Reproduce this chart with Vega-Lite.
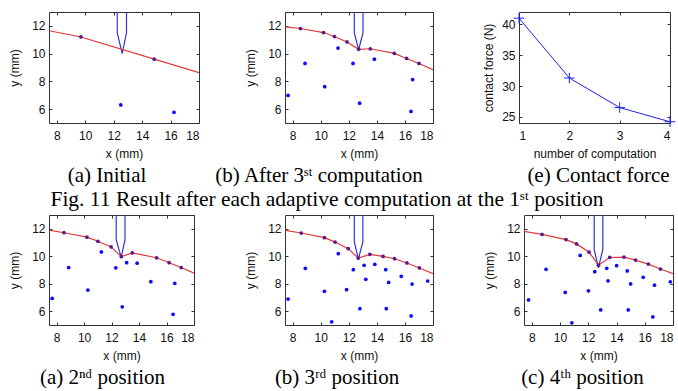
{
  "$schema": "https://vega.github.io/schema/vega-lite/v6.json",
  "background": "white",
  "padding": {"left": 8, "top": 10, "right": 0, "bottom": 0},
  "bounds": "full",
  "spacing": 4,
  "config": {
    "view": {"stroke": "#333333", "strokeWidth": 1},
    "axis": {
      "grid": false, "domain": false, "tickSize": -3, "tickColor": "#333333", "tickWidth": 1,
      "labelFont": "Liberation Sans", "labelFontSize": 12, "labelColor": "#111111", "labelPadding": 7,
      "titleFont": "Liberation Sans", "titleFontSize": 12, "titleFontWeight": "normal", "titleColor": "#111111"
    },
    "axisX": {"titlePadding": 7, "labelPadding": 10},
    "axisY": {"titlePadding": 10},
    "title": {"font": "Liberation Serif", "fontSize": 21, "fontWeight": "normal", "color": "#000000"}
  },
  "datasets": {
    "pts": [
      {"p": "a", "t": "e", "x": 7.45, "y": 11.65},
      {"p": "a", "t": "s", "x": 9.7, "y": 11.2},
      {"p": "a", "t": "s", "x": 14.85, "y": 9.6},
      {"p": "a", "t": "e", "x": 18, "y": 8.63},
      {"p": "a", "t": "i", "x": 12.5, "y": 6.3},
      {"p": "a", "t": "i", "x": 16.24, "y": 5.77},

      {"p": "b", "t": "e", "x": 7.45, "y": 11.93},
      {"p": "b", "t": "s", "x": 8.55, "y": 11.81},
      {"p": "b", "t": "s", "x": 10.19, "y": 11.52},
      {"p": "b", "t": "s", "x": 10.97, "y": 11.23},
      {"p": "b", "t": "s", "x": 11.87, "y": 10.84},
      {"p": "b", "t": "s", "x": 12.7, "y": 10.31},
      {"p": "b", "t": "s", "x": 13.53, "y": 10.35},
      {"p": "b", "t": "s", "x": 15.24, "y": 10.02},
      {"p": "b", "t": "s", "x": 16.12, "y": 9.65},
      {"p": "b", "t": "s", "x": 17.0, "y": 9.29},
      {"p": "b", "t": "e", "x": 18, "y": 8.85},
      {"p": "b", "t": "i", "x": 7.67, "y": 6.99},
      {"p": "b", "t": "i", "x": 8.88, "y": 9.29},
      {"p": "b", "t": "i", "x": 10.28, "y": 7.62},
      {"p": "b", "t": "i", "x": 11.23, "y": 10.4},
      {"p": "b", "t": "i", "x": 12.3, "y": 9.29},
      {"p": "b", "t": "i", "x": 13.82, "y": 9.6},
      {"p": "b", "t": "i", "x": 12.77, "y": 6.43},
      {"p": "b", "t": "i", "x": 16.55, "y": 8.13},
      {"p": "b", "t": "i", "x": 16.43, "y": 5.83},

      {"p": "a2", "t": "e", "x": 7.45, "y": 11.9},
      {"p": "a2", "t": "s", "x": 8.54, "y": 11.71},
      {"p": "a2", "t": "s", "x": 10.21, "y": 11.39},
      {"p": "a2", "t": "s", "x": 11.01, "y": 11.09},
      {"p": "a2", "t": "s", "x": 11.97, "y": 10.68},
      {"p": "a2", "t": "s", "x": 12.71, "y": 9.97},
      {"p": "a2", "t": "s", "x": 13.51, "y": 10.24},
      {"p": "a2", "t": "s", "x": 15.28, "y": 9.89},
      {"p": "a2", "t": "s", "x": 16.19, "y": 9.53},
      {"p": "a2", "t": "s", "x": 17.07, "y": 9.18},
      {"p": "a2", "t": "e", "x": 18, "y": 8.77},
      {"p": "a2", "t": "i", "x": 7.68, "y": 6.93},
      {"p": "a2", "t": "i", "x": 8.88, "y": 9.18},
      {"p": "a2", "t": "i", "x": 10.28, "y": 7.54},
      {"p": "a2", "t": "i", "x": 11.26, "y": 10.31},
      {"p": "a2", "t": "i", "x": 12.31, "y": 9.16},
      {"p": "a2", "t": "i", "x": 13.1, "y": 9.53},
      {"p": "a2", "t": "i", "x": 13.86, "y": 9.5},
      {"p": "a2", "t": "i", "x": 12.78, "y": 6.32},
      {"p": "a2", "t": "i", "x": 14.86, "y": 8.15},
      {"p": "a2", "t": "i", "x": 16.6, "y": 8.03},
      {"p": "a2", "t": "i", "x": 16.48, "y": 5.78},

      {"p": "b2", "t": "e", "x": 7.45, "y": 11.88},
      {"p": "b2", "t": "s", "x": 8.61, "y": 11.69},
      {"p": "b2", "t": "s", "x": 10.26, "y": 11.35},
      {"p": "b2", "t": "s", "x": 11.02, "y": 11.03},
      {"p": "b2", "t": "s", "x": 11.96, "y": 10.55},
      {"p": "b2", "t": "s", "x": 12.67, "y": 9.87},
      {"p": "b2", "t": "s", "x": 13.5, "y": 10.14},
      {"p": "b2", "t": "s", "x": 14.44, "y": 9.99},
      {"p": "b2", "t": "s", "x": 15.26, "y": 9.82},
      {"p": "b2", "t": "s", "x": 16.14, "y": 9.51},
      {"p": "b2", "t": "s", "x": 17.03, "y": 9.15},
      {"p": "b2", "t": "e", "x": 18, "y": 8.73},
      {"p": "b2", "t": "i", "x": 7.67, "y": 6.89},
      {"p": "b2", "t": "i", "x": 8.9, "y": 9.12},
      {"p": "b2", "t": "i", "x": 10.26, "y": 7.45},
      {"p": "b2", "t": "i", "x": 10.78, "y": 5.23},
      {"p": "b2", "t": "i", "x": 11.25, "y": 10.19},
      {"p": "b2", "t": "i", "x": 11.84, "y": 7.57},
      {"p": "b2", "t": "i", "x": 12.32, "y": 9.02},
      {"p": "b2", "t": "i", "x": 12.79, "y": 6.19},
      {"p": "b2", "t": "i", "x": 13.09, "y": 9.34},
      {"p": "b2", "t": "i", "x": 13.21, "y": 8.32},
      {"p": "b2", "t": "i", "x": 13.85, "y": 9.41},
      {"p": "b2", "t": "i", "x": 14.63, "y": 9.02},
      {"p": "b2", "t": "i", "x": 14.67, "y": 6.19},
      {"p": "b2", "t": "i", "x": 14.84, "y": 8.1},
      {"p": "b2", "t": "i", "x": 15.74, "y": 8.54},
      {"p": "b2", "t": "i", "x": 16.51, "y": 7.98},
      {"p": "b2", "t": "i", "x": 16.44, "y": 5.66},
      {"p": "b2", "t": "i", "x": 17.62, "y": 8.2},

      {"p": "c2", "t": "e", "x": 7.45, "y": 11.81},
      {"p": "c2", "t": "s", "x": 8.73, "y": 11.59},
      {"p": "c2", "t": "s", "x": 10.42, "y": 11.21},
      {"p": "c2", "t": "s", "x": 11.17, "y": 10.9},
      {"p": "c2", "t": "s", "x": 12.06, "y": 10.3},
      {"p": "c2", "t": "s", "x": 12.72, "y": 9.35},
      {"p": "c2", "t": "s", "x": 13.52, "y": 9.91},
      {"p": "c2", "t": "s", "x": 14.53, "y": 9.94},
      {"p": "c2", "t": "s", "x": 15.35, "y": 9.72},
      {"p": "c2", "t": "s", "x": 16.25, "y": 9.43},
      {"p": "c2", "t": "s", "x": 17.11, "y": 9.07},
      {"p": "c2", "t": "e", "x": 18, "y": 8.74},
      {"p": "c2", "t": "i", "x": 7.77, "y": 6.82},
      {"p": "c2", "t": "i", "x": 9.01, "y": 9.05},
      {"p": "c2", "t": "i", "x": 10.37, "y": 7.37},
      {"p": "c2", "t": "i", "x": 10.84, "y": 5.16},
      {"p": "c2", "t": "i", "x": 11.43, "y": 10.06},
      {"p": "c2", "t": "i", "x": 12.01, "y": 7.49},
      {"p": "c2", "t": "i", "x": 12.46, "y": 8.88},
      {"p": "c2", "t": "i", "x": 12.88, "y": 6.1},
      {"p": "c2", "t": "i", "x": 13.31, "y": 9.12},
      {"p": "c2", "t": "i", "x": 13.4, "y": 8.21},
      {"p": "c2", "t": "i", "x": 14.01, "y": 9.31},
      {"p": "c2", "t": "i", "x": 14.76, "y": 8.93},
      {"p": "c2", "t": "i", "x": 14.83, "y": 6.1},
      {"p": "c2", "t": "i", "x": 15.0, "y": 7.99},
      {"p": "c2", "t": "i", "x": 15.89, "y": 8.47},
      {"p": "c2", "t": "i", "x": 16.69, "y": 7.9},
      {"p": "c2", "t": "i", "x": 16.57, "y": 5.59},
      {"p": "c2", "t": "i", "x": 17.81, "y": 8.14}
    ],
    "tool": [
      {"p": "a", "o": 0, "x": 12.25, "y": 13.5}, {"p": "a", "o": 1, "x": 12.25, "y": 11.5}, {"p": "a", "o": 2, "x": 12.6, "y": 10.0}, {"p": "a", "o": 3, "x": 12.9, "y": 11.5}, {"p": "a", "o": 4, "x": 12.9, "y": 13.5},
      {"p": "b", "o": 0, "x": 12.39, "y": 13.5}, {"p": "b", "o": 1, "x": 12.39, "y": 11.5}, {"p": "b", "o": 2, "x": 12.7, "y": 10.28}, {"p": "b", "o": 3, "x": 13.01, "y": 11.5}, {"p": "b", "o": 4, "x": 13.01, "y": 13.5},
      {"p": "a2", "o": 0, "x": 12.34, "y": 13.5}, {"p": "a2", "o": 1, "x": 12.34, "y": 11.2}, {"p": "a2", "o": 2, "x": 12.7, "y": 9.92}, {"p": "a2", "o": 3, "x": 12.98, "y": 11.2}, {"p": "a2", "o": 4, "x": 12.98, "y": 13.5},
      {"p": "b2", "o": 0, "x": 12.39, "y": 13.5}, {"p": "b2", "o": 1, "x": 12.39, "y": 11.05}, {"p": "b2", "o": 2, "x": 12.68, "y": 9.8}, {"p": "b2", "o": 3, "x": 13.0, "y": 11.05}, {"p": "b2", "o": 4, "x": 13.0, "y": 13.5},
      {"p": "c2", "o": 0, "x": 12.42, "y": 13.5}, {"p": "c2", "o": 1, "x": 12.42, "y": 10.5}, {"p": "c2", "o": 2, "x": 12.72, "y": 9.15}, {"p": "c2", "o": 3, "x": 13.03, "y": 10.5}, {"p": "c2", "o": 4, "x": 13.03, "y": 13.5}
    ],
    "force": [
      {"n": 1, "f": 41.0},
      {"n": 2, "f": 31.3},
      {"n": 3, "f": 26.5},
      {"n": 4, "f": 24.2}
    ]
  },
  "vconcat": [
    {
      "bounds": "flush",
      "spacing": 86,
      "title": {"text": "Fig. 11 Result after each adaptive computation at the 1ˢᵗ position", "orient": "bottom", "anchor": "middle", "offset": 2, "fontSize": 21.5, "dx": -16},
      "hconcat": [
        {
          "width": 150, "height": 111,
          "title": {"text": "(a) Initial", "orient": "bottom", "offset": 6, "dx": -17},
          "resolve": {"axis": {"x": "independent", "y": "independent"}},
          "layer": [
            {"data": {"name": "tool"}, "transform": [{"filter": "datum.p === 'a'"}],
             "mark": {"type": "line", "color": "#3434d6", "strokeWidth": 1.2, "clip": true},
             "encoding": {
               "x": {"field": "x", "type": "quantitative", "scale": {"domain": [7.45, 18], "nice": false, "zero": false}, "axis": {"orient": "bottom", "values": [8, 10, 12, 14, 16, 18], "title": "x (mm)"}},
               "y": {"field": "y", "type": "quantitative", "scale": {"domain": [5, 13], "nice": false, "zero": false}, "axis": {"orient": "left", "values": [6, 8, 10, 12], "title": "y (mm)"}},
               "order": {"field": "o"}}},
            {"data": {"name": "pts"}, "transform": [{"filter": "datum.p === 'a' && datum.t !== 'i'"}],
             "mark": {"type": "line", "color": "#e23a3a", "strokeWidth": 1.2, "clip": true},
             "encoding": {
               "x": {"field": "x", "type": "quantitative", "axis": {"orient": "top", "values": [8, 10, 12, 14, 16, 18], "labels": false, "title": null}},
               "y": {"field": "y", "type": "quantitative", "axis": {"orient": "right", "values": [6, 8, 10, 12], "labels": false, "title": null}}}},
            {"data": {"name": "pts"}, "transform": [{"filter": "datum.p === 'a' && datum.t !== 'e'"}],
             "mark": {"type": "point", "filled": true, "size": 14, "opacity": 1},
             "encoding": {
               "x": {"field": "x", "type": "quantitative", "axis": null},
               "y": {"field": "y", "type": "quantitative", "axis": null},
               "color": {"condition": {"test": "datum.t === 's'", "value": "#5b1a8c"}, "value": "#0a0aff"}}}
          ]
        },
        {
          "width": 148, "height": 111,
          "title": {"text": "(b) After 3ˢᵗ computation", "orient": "bottom", "offset": 6, "dx": -40},
          "resolve": {"axis": {"x": "independent", "y": "independent"}},
          "layer": [
            {"data": {"name": "tool"}, "transform": [{"filter": "datum.p === 'b'"}],
             "mark": {"type": "line", "color": "#3434d6", "strokeWidth": 1.2, "clip": true},
             "encoding": {
               "x": {"field": "x", "type": "quantitative", "scale": {"domain": [7.45, 18], "nice": false, "zero": false}, "axis": {"orient": "bottom", "values": [8, 10, 12, 14, 16, 18], "title": "x (mm)"}},
               "y": {"field": "y", "type": "quantitative", "scale": {"domain": [5, 13], "nice": false, "zero": false}, "axis": {"orient": "left", "values": [6, 8, 10, 12], "title": "y (mm)"}},
               "order": {"field": "o"}}},
            {"data": {"name": "pts"}, "transform": [{"filter": "datum.p === 'b' && datum.t !== 'i'"}],
             "mark": {"type": "line", "color": "#e23a3a", "strokeWidth": 1.2, "clip": true},
             "encoding": {
               "x": {"field": "x", "type": "quantitative", "axis": {"orient": "top", "values": [8, 10, 12, 14, 16, 18], "labels": false, "title": null}},
               "y": {"field": "y", "type": "quantitative", "axis": {"orient": "right", "values": [6, 8, 10, 12], "labels": false, "title": null}}}},
            {"data": {"name": "pts"}, "transform": [{"filter": "datum.p === 'b' && datum.t !== 'e'"}],
             "mark": {"type": "point", "filled": true, "size": 14, "opacity": 1},
             "encoding": {
               "x": {"field": "x", "type": "quantitative", "axis": null},
               "y": {"field": "y", "type": "quantitative", "axis": null},
               "color": {"condition": {"test": "datum.t === 's'", "value": "#5b1a8c"}, "value": "#0a0aff"}}}
          ]
        },
        {
          "width": 151, "height": 111,
          "title": {"text": "(e) Contact force", "orient": "bottom", "offset": 6, "dx": 4},
          "resolve": {"axis": {"x": "independent", "y": "independent"}},
          "layer": [
            {"data": {"name": "force"},
             "mark": {"type": "line", "color": "#2020ee", "strokeWidth": 1},
             "encoding": {
               "x": {"field": "n", "type": "quantitative", "scale": {"domain": [1, 4], "nice": false, "zero": false}, "axis": {"orient": "bottom", "values": [1, 2, 3, 4], "title": "number of computation"}},
               "y": {"field": "f", "type": "quantitative", "scale": {"domain": [24, 42], "nice": false, "zero": false}, "axis": {"orient": "left", "values": [25, 30, 35, 40], "title": "contact force (N)", "titlePadding": 6}}}},
            {"data": {"name": "force"},
             "mark": {"type": "point", "shape": "M-1,0H1M0,-1V1", "filled": false, "size": 110, "strokeWidth": 1, "color": "#2020ee", "opacity": 1},
             "encoding": {
               "x": {"field": "n", "type": "quantitative", "axis": {"orient": "top", "values": [1, 2, 3, 4], "labels": false, "title": null}},
               "y": {"field": "f", "type": "quantitative", "axis": {"orient": "right", "values": [25, 30, 35, 40], "labels": false, "title": null}}}}
          ]
        }
      ]
    },
    {
      "bounds": "flush",
      "spacing": 91,
      "hconcat": [
        {
          "width": 145, "height": 110,
          "title": {"text": "(a) 2ⁿᵈ position", "orient": "bottom", "offset": 6, "dx": -19},
          "resolve": {"axis": {"x": "independent", "y": "independent"}},
          "layer": [
            {"data": {"name": "tool"}, "transform": [{"filter": "datum.p === 'a2'"}],
             "mark": {"type": "line", "color": "#3434d6", "strokeWidth": 1.2, "clip": true},
             "encoding": {
               "x": {"field": "x", "type": "quantitative", "scale": {"domain": [7.45, 18], "nice": false, "zero": false}, "axis": {"orient": "bottom", "values": [8, 10, 12, 14, 16, 18], "title": "x (mm)"}},
               "y": {"field": "y", "type": "quantitative", "scale": {"domain": [5, 13], "nice": false, "zero": false}, "axis": {"orient": "left", "values": [6, 8, 10, 12], "title": "y (mm)"}},
               "order": {"field": "o"}}},
            {"data": {"name": "pts"}, "transform": [{"filter": "datum.p === 'a2' && datum.t !== 'i'"}],
             "mark": {"type": "line", "color": "#e23a3a", "strokeWidth": 1.2, "clip": true},
             "encoding": {
               "x": {"field": "x", "type": "quantitative", "axis": {"orient": "top", "values": [8, 10, 12, 14, 16, 18], "labels": false, "title": null}},
               "y": {"field": "y", "type": "quantitative", "axis": {"orient": "right", "values": [6, 8, 10, 12], "labels": false, "title": null}}}},
            {"data": {"name": "pts"}, "transform": [{"filter": "datum.p === 'a2' && datum.t !== 'e'"}],
             "mark": {"type": "point", "filled": true, "size": 14, "opacity": 1},
             "encoding": {
               "x": {"field": "x", "type": "quantitative", "axis": null},
               "y": {"field": "y", "type": "quantitative", "axis": null},
               "color": {"condition": {"test": "datum.t === 's'", "value": "#5b1a8c"}, "value": "#0a0aff"}}}
          ]
        },
        {
          "width": 148, "height": 110,
          "title": {"text": "(b) 3ʳᵈ position", "orient": "bottom", "offset": 6, "dx": -22},
          "resolve": {"axis": {"x": "independent", "y": "independent"}},
          "layer": [
            {"data": {"name": "tool"}, "transform": [{"filter": "datum.p === 'b2'"}],
             "mark": {"type": "line", "color": "#3434d6", "strokeWidth": 1.2, "clip": true},
             "encoding": {
               "x": {"field": "x", "type": "quantitative", "scale": {"domain": [7.45, 18], "nice": false, "zero": false}, "axis": {"orient": "bottom", "values": [8, 10, 12, 14, 16, 18], "title": "x (mm)"}},
               "y": {"field": "y", "type": "quantitative", "scale": {"domain": [5, 13], "nice": false, "zero": false}, "axis": {"orient": "left", "values": [6, 8, 10, 12], "title": "y (mm)"}},
               "order": {"field": "o"}}},
            {"data": {"name": "pts"}, "transform": [{"filter": "datum.p === 'b2' && datum.t !== 'i'"}],
             "mark": {"type": "line", "color": "#e23a3a", "strokeWidth": 1.2, "clip": true},
             "encoding": {
               "x": {"field": "x", "type": "quantitative", "axis": {"orient": "top", "values": [8, 10, 12, 14, 16, 18], "labels": false, "title": null}},
               "y": {"field": "y", "type": "quantitative", "axis": {"orient": "right", "values": [6, 8, 10, 12], "labels": false, "title": null}}}},
            {"data": {"name": "pts"}, "transform": [{"filter": "datum.p === 'b2' && datum.t !== 'e'"}],
             "mark": {"type": "point", "filled": true, "size": 14, "opacity": 1},
             "encoding": {
               "x": {"field": "x", "type": "quantitative", "axis": null},
               "y": {"field": "y", "type": "quantitative", "axis": null},
               "color": {"condition": {"test": "datum.t === 's'", "value": "#5b1a8c"}, "value": "#0a0aff"}}}
          ]
        },
        {
          "width": 149, "height": 110,
          "title": {"text": "(c) 4ᵗʰ position", "orient": "bottom", "offset": 6, "dx": -16},
          "resolve": {"axis": {"x": "independent", "y": "independent"}},
          "layer": [
            {"data": {"name": "tool"}, "transform": [{"filter": "datum.p === 'c2'"}],
             "mark": {"type": "line", "color": "#3434d6", "strokeWidth": 1.2, "clip": true},
             "encoding": {
               "x": {"field": "x", "type": "quantitative", "scale": {"domain": [7.45, 18], "nice": false, "zero": false}, "axis": {"orient": "bottom", "values": [8, 10, 12, 14, 16, 18], "title": "x (mm)"}},
               "y": {"field": "y", "type": "quantitative", "scale": {"domain": [5, 13], "nice": false, "zero": false}, "axis": {"orient": "left", "values": [6, 8, 10, 12], "title": "y (mm)"}},
               "order": {"field": "o"}}},
            {"data": {"name": "pts"}, "transform": [{"filter": "datum.p === 'c2' && datum.t !== 'i'"}],
             "mark": {"type": "line", "color": "#e23a3a", "strokeWidth": 1.2, "clip": true},
             "encoding": {
               "x": {"field": "x", "type": "quantitative", "axis": {"orient": "top", "values": [8, 10, 12, 14, 16, 18], "labels": false, "title": null}},
               "y": {"field": "y", "type": "quantitative", "axis": {"orient": "right", "values": [6, 8, 10, 12], "labels": false, "title": null}}}},
            {"data": {"name": "pts"}, "transform": [{"filter": "datum.p === 'c2' && datum.t !== 'e'"}],
             "mark": {"type": "point", "filled": true, "size": 14, "opacity": 1},
             "encoding": {
               "x": {"field": "x", "type": "quantitative", "axis": null},
               "y": {"field": "y", "type": "quantitative", "axis": null},
               "color": {"condition": {"test": "datum.t === 's'", "value": "#5b1a8c"}, "value": "#0a0aff"}}}
          ]
        }
      ]
    }
  ]
}
